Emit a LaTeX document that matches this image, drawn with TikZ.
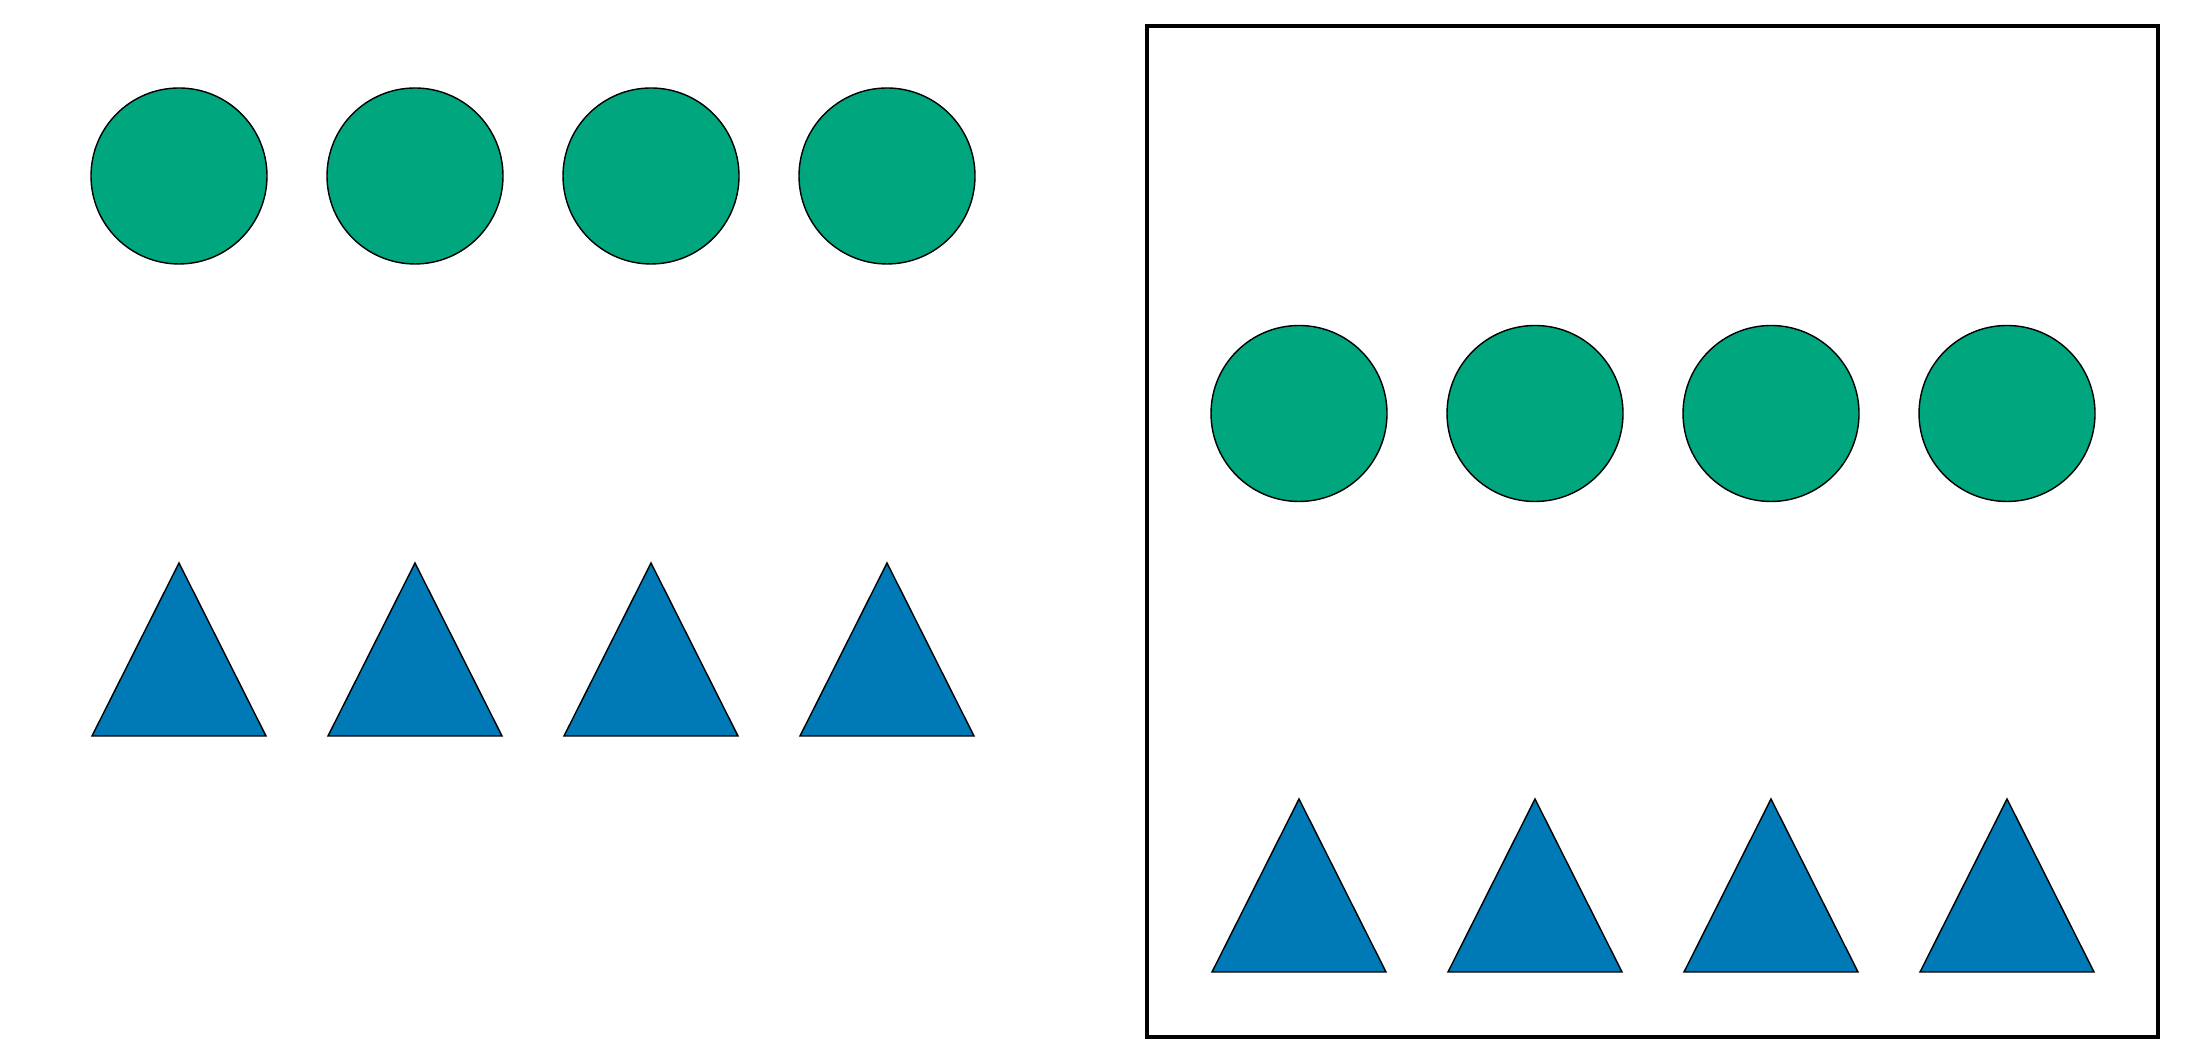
\documentclass[tikz,border=0pt]{standalone}
\usepackage{tikz}
\usetikzlibrary{positioning}
\definecolor{dotgreen}{RGB}{0,166,126}
\definecolor{triblue}{RGB}{0,122,183}

\begin{document}
\begin{tikzpicture}

\tikzstyle{dot}=[circle,draw,fill=dotgreen,minimum size=1.76cm,inner sep=0pt,line width=0.4pt]
\tikzstyle{tri}=[draw,fill=triblue,line width=0.4pt,line join=miter]

\useasboundingbox (0,0) rectangle (21.86,10.63);

% left group
\foreach \i in {1,...,4} {
  \node (ldot\i) [dot] at ({1.79+2.36*(\i-1)},8.87) {};
  \draw[tri] ({1.79+2.36*(\i-1)},5.00) -- ++(0.87,-1.73) -- ++(-1.74,0) -- cycle;
}

% framed group
\node (frame) [draw,line width=1.2pt,minimum size=10.11cm,inner sep=0pt] at (16.525,5.315) {};

\foreach \i in {1,...,4} {
  \node (rdot\i) [dot] at ({12.99+2.36*(\i-1)},6.495) {};
  \draw[tri] ({12.99+2.36*(\i-1)},2.64) -- ++(0.87,-1.73) -- ++(-1.74,0) -- cycle;
}

\end{tikzpicture}
\end{document}
